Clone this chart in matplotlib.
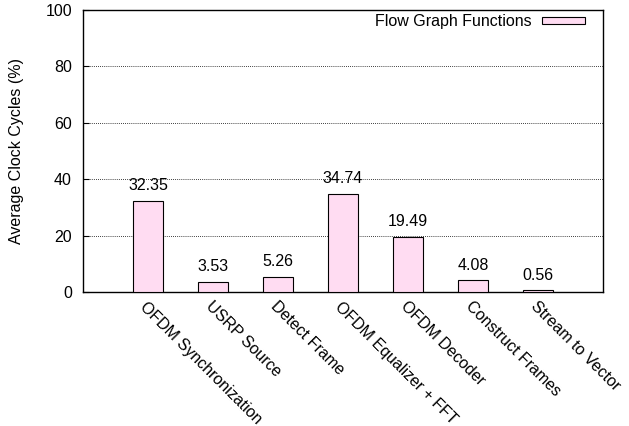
import matplotlib
matplotlib.use('Agg')
import matplotlib.pyplot as plt
import numpy as np

plt.rcParams['font.family'] = ['Liberation Sans', 'DejaVu Sans']

functions = ['OFDM Synchronization', 'USRP Source', 'Detect Frame',
             'OFDM Equalizer + FFT', 'OFDM Decoder', 'Construct Frames',
             'Stream to Vector']
cycles = [32.35, 3.53, 5.26, 34.74, 19.49, 4.08, 0.56]

fig = plt.figure(figsize=(6.29, 4.26), dpi=100)
ax = fig.add_axes([83/629, 1 - 292/426, 520/629, 282/426])

x = np.arange(1, len(functions) + 1)
ax.bar(x, cycles, width=0.46, color='#ffdcf2', edgecolor='black',
       linewidth=0.8, label='Flow Graph Functions', zorder=3)

# value labels above bars
for xi, v in zip(x, cycles):
    ax.text(xi, v + 2.8, '%.2f' % v, ha='center', va='bottom', fontsize=11.5)

ax.set_xlim(0, 8)
ax.set_ylim(0, 100)
ax.set_yticks([0, 20, 40, 60, 80, 100])
ax.tick_params(axis='y', direction='in', length=4, labelsize=11.5, pad=8)
ax.set_xticks(x)
ax.set_xticklabels(functions, rotation=-45, ha='left', va='top',
                   rotation_mode='anchor', fontsize=11.5)
ax.tick_params(axis='x', length=0, pad=5)
ax.yaxis.grid(True, linestyle=(0, (1, 1.5)), color='black', linewidth=0.6)
ax.set_axisbelow(True)
for s in ax.spines.values():
    s.set_linewidth(1.0)

ax.set_ylabel('Average Clock Cycles (%)', fontsize=11.5, labelpad=15)

leg = ax.legend(loc='upper right', bbox_to_anchor=(0.977, 1.007),
                frameon=False, fontsize=11.5, borderaxespad=0,
                markerfirst=False, handlelength=2.7, handleheight=0.35,
                handletextpad=0.6)

plt.savefig('out.png', dpi=100)
